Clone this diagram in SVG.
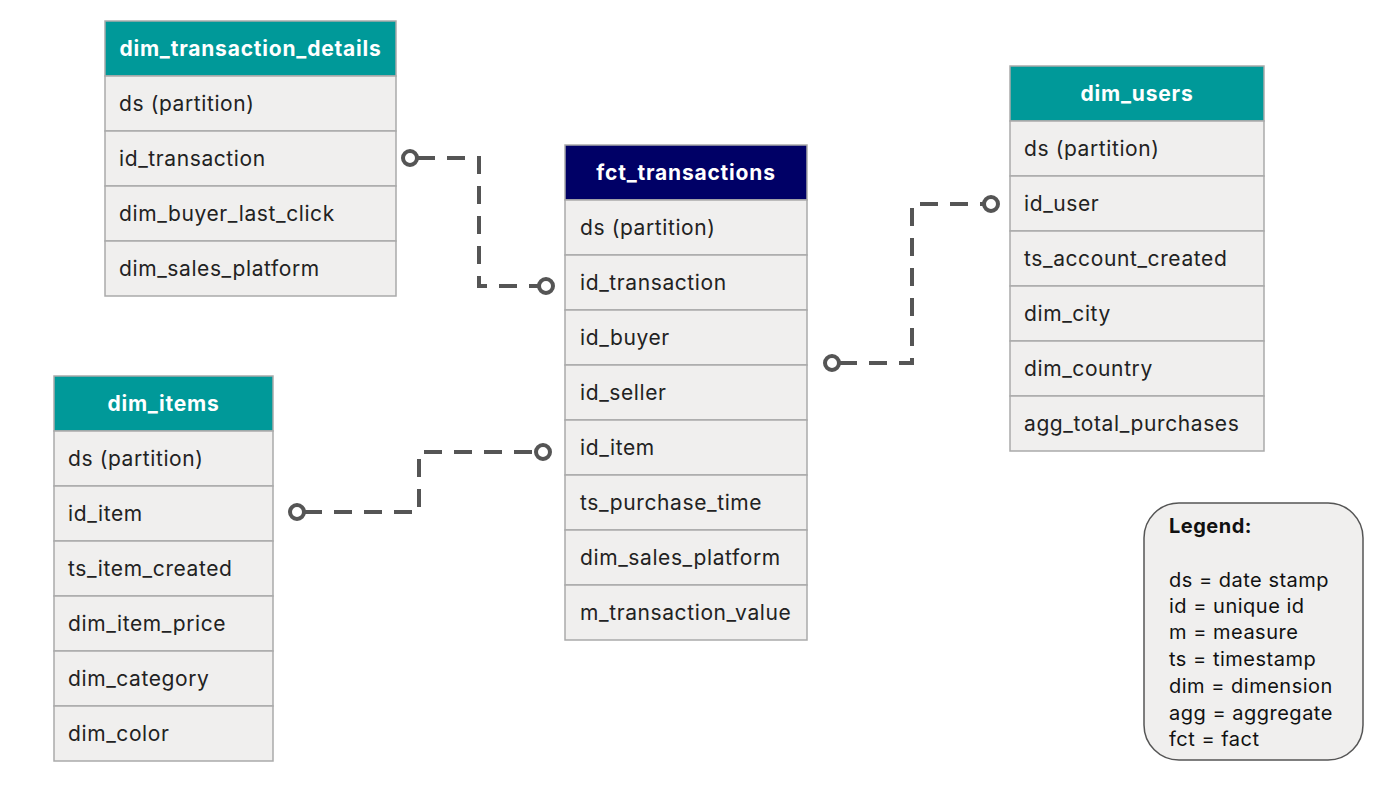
<svg xmlns="http://www.w3.org/2000/svg" width="1400" height="795" viewBox="0 0 1400 795">
<style>
.hdr{stroke:#aaaaaa;stroke-width:1.5}
.teal{fill:#009999}
.navy{fill:#000066}
.row{fill:#f0efee;stroke:#aaaaaa;stroke-width:1.5}
.ht{font-family:Inter,"Liberation Sans",sans-serif;font-size:21px;letter-spacing:0.8px;font-weight:bold;fill:#ffffff;text-anchor:middle}
.rt{font-family:Inter,"Liberation Sans",sans-serif;font-size:21px;letter-spacing:0.6px;fill:#222222}
.conn{fill:none;stroke:#555555;stroke-width:4;stroke-dasharray:18 12}
.end{fill:#ffffff;stroke:#555555;stroke-width:4}
.lg{font-family:Inter,"Liberation Sans",sans-serif;font-size:20px;letter-spacing:0.5px;fill:#111111}
</style>
<rect width="1400" height="795" fill="#ffffff"/>

<g id="connectors">
<path class="conn" d="M417,158 H479 V286 H539"/>
<circle class="end" cx="410" cy="158" r="7"/>
<circle class="end" cx="546" cy="286" r="7"/>
<path class="conn" d="M304,512 H419 V452 H536"/>
<circle class="end" cx="297" cy="512" r="7"/>
<circle class="end" cx="543" cy="452" r="7"/>
<path class="conn" d="M839,363 H912 V204 H984"/>
<circle class="end" cx="832" cy="363" r="7"/>
<circle class="end" cx="991" cy="204" r="7"/>
</g>

<g id="dim_transaction_details">
<rect class="hdr teal" x="105" y="21" width="291" height="55"/>
<text class="ht" x="250.5" y="56">dim_transaction_details</text>
<rect class="row" x="105" y="76" width="291" height="55"/>
<text class="rt" x="119" y="111">ds (partition)</text>
<rect class="row" x="105" y="131" width="291" height="55"/>
<text class="rt" x="119" y="166">id_transaction</text>
<rect class="row" x="105" y="186" width="291" height="55"/>
<text class="rt" x="119" y="221">dim_buyer_last_click</text>
<rect class="row" x="105" y="241" width="291" height="55"/>
<text class="rt" x="119" y="276">dim_sales_platform</text>
</g>

<g id="fct_transactions">
<rect class="hdr navy" x="565" y="145" width="242" height="55"/>
<text class="ht" x="686" y="180">fct_transactions</text>
<rect class="row" x="565" y="200" width="242" height="55"/>
<text class="rt" x="580" y="235">ds (partition)</text>
<rect class="row" x="565" y="255" width="242" height="55"/>
<text class="rt" x="580" y="290">id_transaction</text>
<rect class="row" x="565" y="310" width="242" height="55"/>
<text class="rt" x="580" y="345">id_buyer</text>
<rect class="row" x="565" y="365" width="242" height="55"/>
<text class="rt" x="580" y="400">id_seller</text>
<rect class="row" x="565" y="420" width="242" height="55"/>
<text class="rt" x="580" y="455">id_item</text>
<rect class="row" x="565" y="475" width="242" height="55"/>
<text class="rt" x="580" y="510">ts_purchase_time</text>
<rect class="row" x="565" y="530" width="242" height="55"/>
<text class="rt" x="580" y="565">dim_sales_platform</text>
<rect class="row" x="565" y="585" width="242" height="55"/>
<text class="rt" x="580" y="620">m_transaction_value</text>
</g>

<g id="dim_users">
<rect class="hdr teal" x="1010" y="66" width="254" height="55"/>
<text class="ht" x="1137" y="101">dim_users</text>
<rect class="row" x="1010" y="121" width="254" height="55"/>
<text class="rt" x="1024" y="156">ds (partition)</text>
<rect class="row" x="1010" y="176" width="254" height="55"/>
<text class="rt" x="1024" y="211">id_user</text>
<rect class="row" x="1010" y="231" width="254" height="55"/>
<text class="rt" x="1024" y="266">ts_account_created</text>
<rect class="row" x="1010" y="286" width="254" height="55"/>
<text class="rt" x="1024" y="321">dim_city</text>
<rect class="row" x="1010" y="341" width="254" height="55"/>
<text class="rt" x="1024" y="376">dim_country</text>
<rect class="row" x="1010" y="396" width="254" height="55"/>
<text class="rt" x="1024" y="431">agg_total_purchases</text>
</g>

<g id="dim_items">
<rect class="hdr teal" x="54" y="376" width="219" height="55"/>
<text class="ht" x="163.5" y="411">dim_items</text>
<rect class="row" x="54" y="431" width="219" height="55"/>
<text class="rt" x="68" y="466">ds (partition)</text>
<rect class="row" x="54" y="486" width="219" height="55"/>
<text class="rt" x="68" y="521">id_item</text>
<rect class="row" x="54" y="541" width="219" height="55"/>
<text class="rt" x="68" y="576">ts_item_created</text>
<rect class="row" x="54" y="596" width="219" height="55"/>
<text class="rt" x="68" y="631">dim_item_price</text>
<rect class="row" x="54" y="651" width="219" height="55"/>
<text class="rt" x="68" y="686">dim_category</text>
<rect class="row" x="54" y="706" width="219" height="55"/>
<text class="rt" x="68" y="741">dim_color</text>
</g>

<g id="legend">
<rect x="1144" y="503" width="219" height="257" rx="35" ry="35" fill="#f0efee" stroke="#555555" stroke-width="1.5"/>
<text class="lg" x="1169" y="533" font-weight="bold" letter-spacing="0">Legend:</text>
<text class="lg" x="1169" y="587">ds = date stamp</text>
<text class="lg" x="1169" y="613">id = unique id</text>
<text class="lg" x="1169" y="639">m = measure</text>
<text class="lg" x="1169" y="666">ts = timestamp</text>
<text class="lg" x="1169" y="693">dim = dimension</text>
<text class="lg" x="1169" y="720">agg = aggregate</text>
<text class="lg" x="1169" y="746">fct = fact</text>
</g>
</svg>
